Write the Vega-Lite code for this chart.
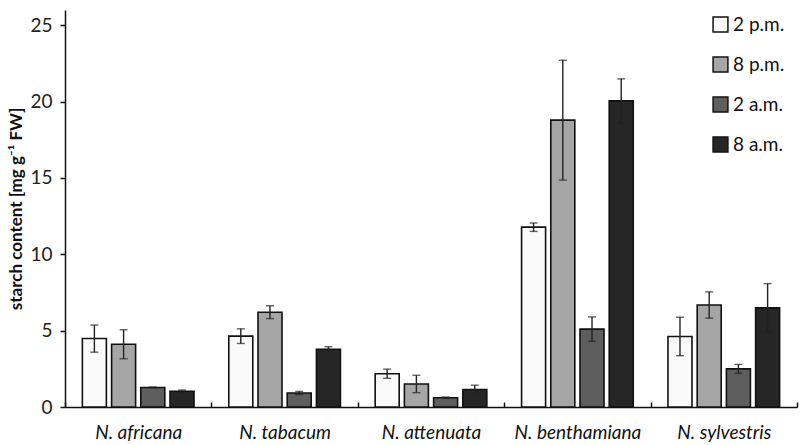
{
  "$schema": "https://vega.github.io/schema/vega-lite/v6.json",
  "width": 732,
  "height": 397,
  "autosize": {"type": "none"},
  "padding": {"left": 65, "top": 10, "right": 3, "bottom": 38},
  "background": "white",
  "config": {"view": {"stroke": null}, "font": "Lato"},
  "data": {
    "values": [
      {"species": "N. africana", "time": "2 p.m.", "value": 4.49, "low": 3.59, "high": 5.37},
      {"species": "N. africana", "time": "8 p.m.", "value": 4.11, "low": 3.16, "high": 5.06},
      {"species": "N. africana", "time": "2 a.m.", "value": 1.28, "low": 1.25, "high": 1.31},
      {"species": "N. africana", "time": "8 a.m.", "value": 1.03, "low": 0.94, "high": 1.11},
      {"species": "N. tabacum", "time": "2 p.m.", "value": 4.64, "low": 4.16, "high": 5.12},
      {"species": "N. tabacum", "time": "8 p.m.", "value": 6.21, "low": 5.79, "high": 6.63},
      {"species": "N. tabacum", "time": "2 a.m.", "value": 0.92, "low": 0.82, "high": 1.02},
      {"species": "N. tabacum", "time": "8 a.m.", "value": 3.78, "low": 3.62, "high": 3.95},
      {"species": "N. attenuata", "time": "2 p.m.", "value": 2.18, "low": 1.88, "high": 2.48},
      {"species": "N. attenuata", "time": "8 p.m.", "value": 1.51, "low": 0.94, "high": 2.08},
      {"species": "N. attenuata", "time": "2 a.m.", "value": 0.61, "low": 0.57, "high": 0.65},
      {"species": "N. attenuata", "time": "8 a.m.", "value": 1.15, "low": 0.87, "high": 1.43},
      {"species": "N. benthamiana", "time": "2 p.m.", "value": 11.78, "low": 11.5, "high": 12.05},
      {"species": "N. benthamiana", "time": "8 p.m.", "value": 18.79, "low": 14.86, "high": 22.71},
      {"species": "N. benthamiana", "time": "2 a.m.", "value": 5.1, "low": 4.3, "high": 5.9},
      {"species": "N. benthamiana", "time": "8 a.m.", "value": 20.05, "low": 18.6, "high": 21.49},
      {"species": "N. sylvestris", "time": "2 p.m.", "value": 4.62, "low": 3.36, "high": 5.88},
      {"species": "N. sylvestris", "time": "8 p.m.", "value": 6.68, "low": 5.82, "high": 7.54},
      {"species": "N. sylvestris", "time": "2 a.m.", "value": 2.5, "low": 2.21, "high": 2.79},
      {"species": "N. sylvestris", "time": "8 a.m.", "value": 6.49, "low": 4.9, "high": 8.08}
    ]
  },
  "encoding": {
    "x": {
      "field": "species", "type": "nominal", "sort": null,
      "scale": {"paddingInner": 0, "paddingOuter": 0},
      "axis": {
        "title": null, "labelAngle": 0, "labelFontSize": 19, "labelFontStyle": "italic",
        "labelColor": "#111", "labelPadding": 21, "domainColor": "#111", "domainWidth": 1.5,
        "tickColor": "#111", "tickWidth": 1.5, "tickSize": -5, "tickBand": "extent"
      }
    },
    "xOffset": {
      "field": "time", "type": "nominal", "sort": ["2 p.m.", "8 p.m.", "2 a.m.", "8 a.m."],
      "scale": {"paddingInner": 0.178, "paddingOuter": 0.595}
    }
  },
  "layer": [
    {
      "mark": {"type": "bar", "stroke": "#111", "strokeWidth": 1.6},
      "encoding": {
        "y": {
          "field": "value", "type": "quantitative",
          "scale": {"domain": [0, 25]},
          "axis": {
            "title": "starch content [mg g⁻¹ FW]", "titleFontSize": 17, "titleFontWeight": "bold",
            "titleColor": "#111", "titlePadding": 4,
            "values": [0, 5, 10, 15, 20, 25], "grid": false,
            "labelFontSize": 19, "labelColor": "#222", "labelPadding": 8,
            "domainColor": "#111", "domainWidth": 1.5, "tickColor": "#111", "tickWidth": 1.5, "tickSize": 5
          }
        },
        "fill": {
          "field": "time", "type": "nominal", "sort": ["2 p.m.", "8 p.m.", "2 a.m.", "8 a.m."],
          "scale": {"domain": ["2 p.m.", "8 p.m.", "2 a.m.", "8 a.m."], "range": ["#fafafa", "#a6a6a6", "#5e5e5e", "#262626"]},
          "legend": {
            "title": null, "orient": "none", "legendX": 646, "legendY": 5,
            "symbolType": "square", "symbolSize": 220, "symbolStrokeColor": "#111", "symbolStrokeWidth": 1.5,
            "labelFontSize": 19, "labelColor": "#111", "rowPadding": 19, "labelOffset": 3
          }
        }
      }
    },
    {
      "mark": {"type": "rule", "color": "#222", "strokeWidth": 1.4},
      "encoding": {
        "y": {"field": "low", "type": "quantitative"},
        "y2": {"field": "high"}
      }
    },
    {
      "mark": {"type": "tick", "color": "#222", "thickness": 1.4, "size": 8},
      "encoding": {"y": {"field": "low", "type": "quantitative"}}
    },
    {
      "mark": {"type": "tick", "color": "#222", "thickness": 1.4, "size": 8},
      "encoding": {"y": {"field": "high", "type": "quantitative"}}
    }
  ]
}
